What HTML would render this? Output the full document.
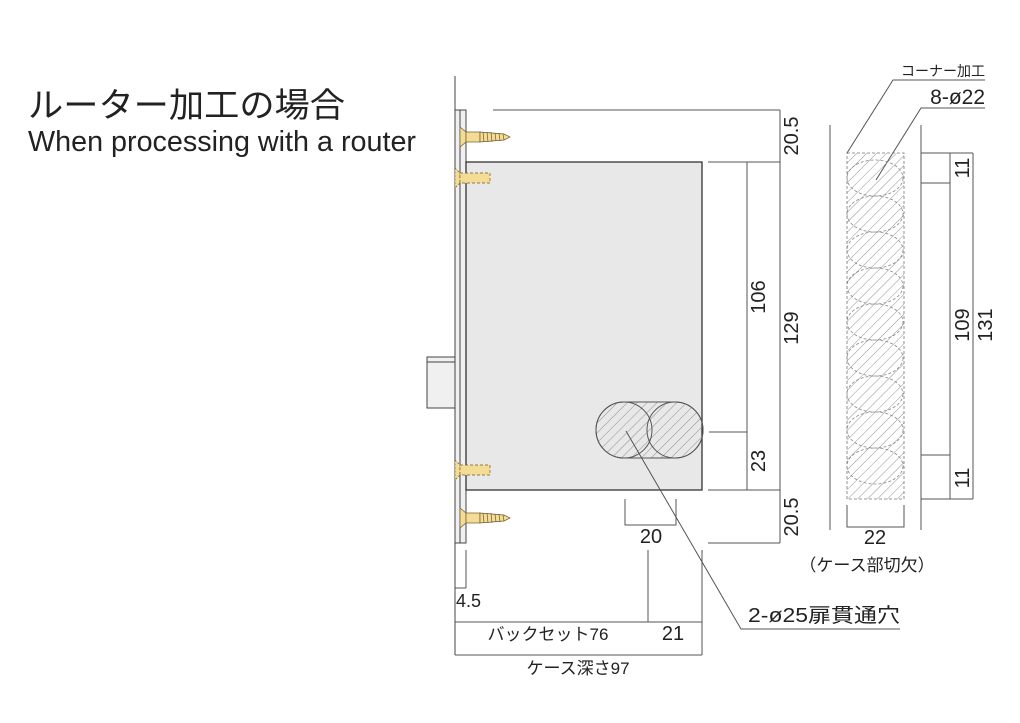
<!DOCTYPE html>
<html><head><meta charset="utf-8"><style>
html,body{margin:0;padding:0;background:#fff;}
svg{display:block;font-family:"Liberation Sans","Noto Sans CJK JP",sans-serif;}
</style></head><body>
<svg width="1020" height="723" viewBox="0 0 1020 723" xmlns="http://www.w3.org/2000/svg">
<defs>
<pattern id="h" patternUnits="userSpaceOnUse" width="7" height="7" patternTransform="rotate(45)">
<line x1="0" y1="0" x2="0" y2="7" stroke="#777" stroke-width="0.8"/>
</pattern>
<g id="scr">
<path d="M0,-10 L6,-5 L6,5 L0,10 Z" fill="#f4dc94" stroke="#6a5a30" stroke-width="0.7"/>
<rect x="6" y="-5" width="14" height="10" fill="#f4dc94" stroke="#6a5a30" stroke-width="0.7"/>
<path d="M20,-5 L44,-3 L50,0 L44,3 L20,5 Z" fill="#f4dc94" stroke="#6a5a30" stroke-width="0.7"/>
<path d="M23,-5 L24,5 M27,-5 L28,5 M31,-5 L32,5 M35,-4 L36,4 M39,-4 L40,4 M43,-3 L44,3" stroke="#6a5a30" stroke-width="0.7"/>
</g>
<g id="dscr">
<path d="M0,-10 L5,-5 L5,5 L0,10 Z" fill="#f4dc94" stroke="#6a5a30" stroke-width="0.7" stroke-dasharray="2,1.5"/>
<rect x="5" y="-5" width="30" height="10" fill="#f4dc94" stroke="#6a5a30" stroke-width="0.7" stroke-dasharray="3,2"/>
</g>
</defs>

<text x="28" y="117" font-size="34" fill="#222" textLength="317" lengthAdjust="spacingAndGlyphs">ルーター加工の場合</text>
<text x="28" y="151" font-size="29" fill="#222" textLength="388" lengthAdjust="spacingAndGlyphs">When processing with a router</text>

<g stroke="#444" stroke-width="1" fill="none">
<line x1="455" y1="76" x2="455" y2="655"/>
<rect x="455" y="110" width="11" height="433" fill="#f0f0f0"/>
<line x1="460" y1="110" x2="460" y2="543"/>
<rect x="427" y="357" width="28" height="51" fill="#f0f0f0"/>
<line x1="427" y1="362" x2="455" y2="362"/>
<rect x="466" y="162" width="236" height="328" fill="#e8e8e8" stroke="#333" stroke-width="1.3"/>
</g>
<use href="#scr" x="460" y="137"/>
<use href="#dscr" x="455" y="178"/>
<use href="#dscr" x="455" y="470"/>
<use href="#scr" x="460" y="518"/>

<path d="M624,402 L675,402 A28,28 0 0 1 675,458 L624,458 A28,28 0 0 1 624,402 Z" fill="url(#h)" stroke="#555" stroke-width="1"/>
<circle cx="624" cy="430" r="28" fill="none" stroke="#555" stroke-width="1"/>
<circle cx="675" cy="430" r="28" fill="none" stroke="#555" stroke-width="1"/>

<g stroke="#555" stroke-width="1" fill="none">
<line x1="493" y1="110" x2="780" y2="110"/>
<line x1="708" y1="162" x2="780" y2="162"/>
<line x1="708" y1="490" x2="780" y2="490"/>
<line x1="708" y1="543" x2="780" y2="543"/>
<line x1="709" y1="432" x2="747" y2="432"/>
<line x1="747" y1="162" x2="747" y2="490"/>
<line x1="780" y1="110" x2="780" y2="543"/>
<polyline points="625,499 625,525 676,525 676,499"/>
<line x1="466" y1="550" x2="466" y2="588"/>
<line x1="455" y1="588" x2="466" y2="588"/>
<line x1="648" y1="550" x2="648" y2="622"/>
<line x1="702" y1="550" x2="702" y2="655"/>
<line x1="455" y1="622" x2="702" y2="622"/>
<line x1="455" y1="655" x2="702" y2="655"/>
<polyline points="626,431 741,629 900,629"/>

<line x1="830" y1="125" x2="830" y2="530"/>
<line x1="921" y1="125" x2="921" y2="530"/>
<line x1="921" y1="153" x2="973" y2="153"/>
<line x1="921" y1="183" x2="950" y2="183"/>
<line x1="921" y1="455" x2="950" y2="455"/>
<line x1="921" y1="499" x2="973" y2="499"/>
<line x1="950" y1="153" x2="950" y2="499"/>
<line x1="973" y1="153" x2="973" y2="499"/>
<polyline points="847,505 847,527 904,527 904,505"/>
<polyline points="847,153 893,80 985,80"/>
<polyline points="876,180 921,108 985,108"/>
</g>
<rect x="847" y="153" width="57" height="346" fill="url(#h)" stroke="#777" stroke-width="0.8" stroke-dasharray="3,2"/>
<g fill="none" stroke="#888" stroke-width="0.8" stroke-dasharray="3,2">
<ellipse cx="875" cy="178" rx="28" ry="18"/>
<ellipse cx="875" cy="214" rx="28" ry="18"/>
<ellipse cx="875" cy="250" rx="28" ry="18"/>
<ellipse cx="875" cy="286" rx="28" ry="18"/>
<ellipse cx="875" cy="322" rx="28" ry="18"/>
<ellipse cx="875" cy="358" rx="28" ry="18"/>
<ellipse cx="875" cy="394" rx="28" ry="18"/>
<ellipse cx="875" cy="430" rx="28" ry="18"/>
<ellipse cx="875" cy="466" rx="28" ry="18"/>
</g>

<g fill="#222" font-size="20">
<text transform="translate(798,136) rotate(-90)" text-anchor="middle">20.5</text>
<text transform="translate(765,297) rotate(-90)" text-anchor="middle">106</text>
<text transform="translate(798,328) rotate(-90)" text-anchor="middle">129</text>
<text transform="translate(765,461) rotate(-90)" text-anchor="middle">23</text>
<text transform="translate(798,517) rotate(-90)" text-anchor="middle">20.5</text>
<text x="651" y="543" text-anchor="middle">20</text>
<text x="456" y="607" font-size="18">4.5</text>
<text x="548" y="640" text-anchor="middle" font-size="17">バックセット76</text>
<text x="673" y="640" text-anchor="middle" font-size="20">21</text>
<text x="578" y="674" text-anchor="middle" font-size="17">ケース深さ97</text>
<text x="748" y="622" font-size="20" textLength="152" lengthAdjust="spacingAndGlyphs">2-ø25扉貫通穴</text>
<text x="985" y="76" text-anchor="end" font-size="14">コーナー加工</text>
<text x="985" y="104" text-anchor="end" font-size="21">8-ø22</text>
<text transform="translate(969,168) rotate(-90)" text-anchor="middle">11</text>
<text transform="translate(969,325) rotate(-90)" text-anchor="middle">109</text>
<text transform="translate(992,325) rotate(-90)" text-anchor="middle">131</text>
<text transform="translate(969,478) rotate(-90)" text-anchor="middle">11</text>
<text x="875" y="544" text-anchor="middle">22</text>
<text x="867" y="571" text-anchor="middle" font-size="17">（ケース部切欠）</text>
</g>
</svg>
</body></html>
